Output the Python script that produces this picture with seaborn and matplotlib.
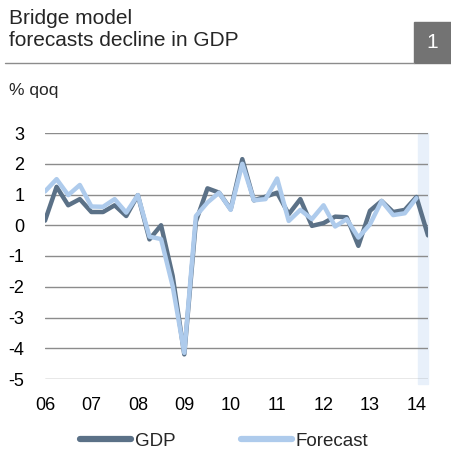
import numpy as np
import pandas as pd
import seaborn as sns
import matplotlib.pyplot as plt
from matplotlib.patches import Rectangle
from matplotlib.lines import Line2D

# quarterly data, 2006Q1 - 2014Q2
years = ['06', '07', '08', '09', '10', '11', '12', '13', '14']
gdp = [0.15, 1.25, 0.65, 0.85, 0.43, 0.43, 0.65, 0.3, 0.98, -0.46, 0.0, -1.65,
       -4.2, 0.12, 1.2, 1.06, 0.52, 2.15, 0.81, 0.93, 1.06, 0.36, 0.85, -0.02,
       0.07, 0.28, 0.26, -0.67, 0.47, 0.79, 0.43, 0.5, 0.92, -0.33]
forecast = [1.1, 1.5, 0.98, 1.31, 0.61, 0.6, 0.85, 0.41, 0.98, -0.37, -0.45, -1.98,
            -4.15, 0.3, 0.74, 1.06, 0.5, 2.0, 0.81, 0.85, 1.52, 0.14, 0.5, 0.2,
            0.65, -0.04, 0.2, -0.4, 0.03, 0.79, 0.33, 0.39, 0.88, np.nan]

n = len(gdp)
df = pd.DataFrame({'t': np.arange(n), 'GDP': gdp, 'Forecast': forecast})
long = df.melt(id_vars='t', var_name='series', value_name='value')

sns.set_style('white')
plt.rcParams['font.family'] = ['Liberation Sans', 'DejaVu Sans']
plt.rcParams['axes.unicode_minus'] = False

W, H = 451, 454
fig = plt.figure(figsize=(W / 100, H / 100), dpi=100)
ax = fig.add_axes([45 / W, 1 - 379 / H, (428 - 45) / W, (379 - 133) / H])

ax.axvspan(32.15, 33, ymin=-0.02, ymax=1.0, color='#e8f0fa', zorder=0, clip_on=False)
for y in range(-5, 4):
    ax.axhline(y, color='#8c8c8c', lw=1, zorder=1)

palette = {'GDP': '#5b7187', 'Forecast': '#aecbec'}
sns.lineplot(data=long, x='t', y='value', hue='series', palette=palette,
             hue_order=['GDP', 'Forecast'], lw=3.2, ax=ax, legend=False, zorder=3)
for ln in ax.get_lines():
    ln.set_solid_capstyle('round')

ax.set_xlim(0, 33)
ax.set_ylim(-5, 3)
ax.set_xticks(np.arange(0, n, 4))
ax.set_xticklabels(years)
ax.set_yticks(range(-5, 4))
ax.tick_params(axis='both', length=0, labelsize=13, colors='#000000')
ax.tick_params(axis='y', pad=15)
ax.tick_params(axis='x', pad=13)
ax.set_xlabel('')
ax.set_ylabel('')
for s in ax.spines.values():
    s.set_visible(False)

# header
fig.text(9 / W, 1 - 18 / H, 'Bridge model', fontsize=15, va='center', ha='left')
fig.text(9 / W, 1 - 41 / H, 'forecasts decline in GDP', fontsize=15, va='center', ha='left')
fig.add_artist(Line2D([5 / W, 414 / W], [1 - 63 / H, 1 - 63 / H], color='#8c8c8c', lw=1))
fig.add_artist(Rectangle((414 / W, 1 - 63 / H), 37 / W, 41 / H, color='#737373',
                         transform=fig.transFigure))
fig.text(432 / W, 1 - 43 / H, '1', color='white', fontsize=15, ha='center', va='center')
fig.text(9 / W, 1 - 90 / H, '% qoq', fontsize=12.5, va='center', ha='left')

handles = [Line2D([], [], color=palette['GDP'], lw=4.5, solid_capstyle='round'),
           Line2D([], [], color=palette['Forecast'], lw=4.5, solid_capstyle='round')]
fig.legend(handles, ['GDP', 'Forecast'], loc='center', bbox_to_anchor=(0.497, 1 - 441 / H),
           ncol=2, frameon=False, fontsize=13.5, handlelength=2.7, handletextpad=0.2,
           columnspacing=3.5)

fig.savefig('out.png', dpi=100)
